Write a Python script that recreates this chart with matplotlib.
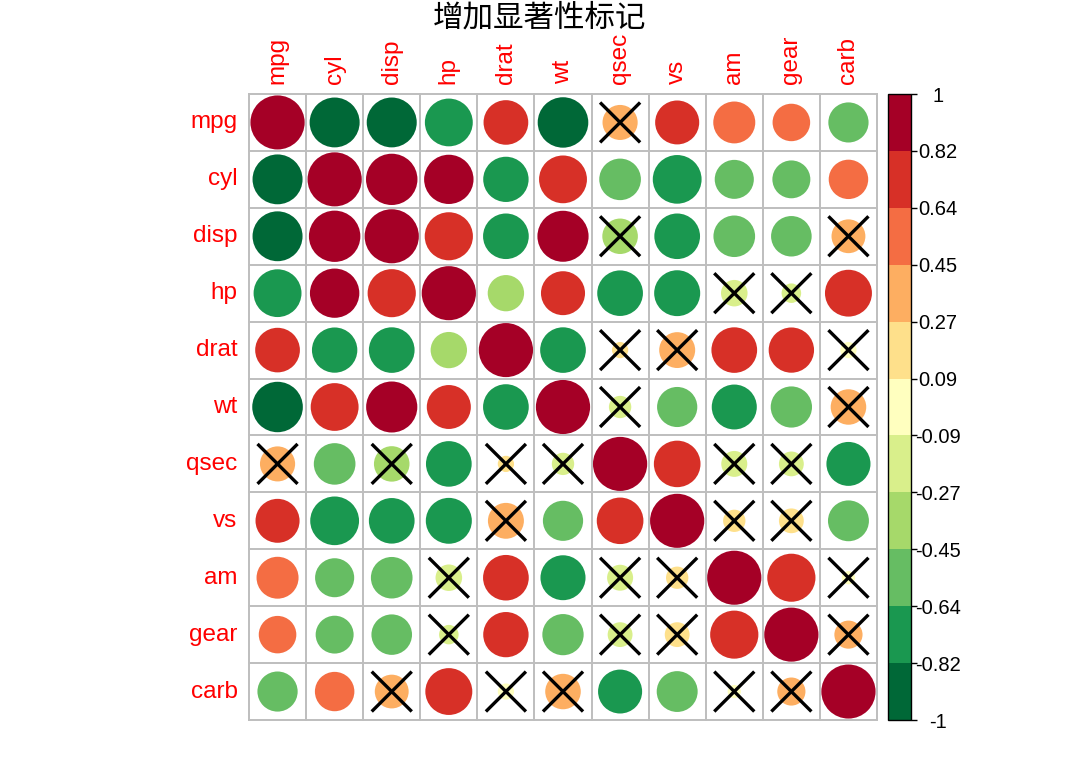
import numpy as np
import matplotlib
matplotlib.use("Agg")
import matplotlib.pyplot as plt
from matplotlib.colors import ListedColormap, BoundaryNorm
from matplotlib.patches import Circle
import matplotlib.cm as cm

plt.rcParams['font.family'] = ['Liberation Sans', 'Noto Sans CJK SC', 'DejaVu Sans']

# --- data -----------------------------------------------------------------
variables = ["mpg", "cyl", "disp", "hp", "drat", "wt", "qsec", "vs", "am", "gear", "carb"]

corr = [
    [1.00, -0.85, -0.85, -0.78, 0.68, -0.87, 0.42, 0.66, 0.60, 0.48, -0.55],
    [-0.85, 1.00, 0.90, 0.83, -0.70, 0.78, -0.59, -0.81, -0.52, -0.49, 0.53],
    [-0.85, 0.90, 1.00, 0.79, -0.71, 0.89, -0.43, -0.71, -0.59, -0.56, 0.39],
    [-0.78, 0.83, 0.79, 1.00, -0.45, 0.66, -0.71, -0.72, -0.24, -0.13, 0.75],
    [0.68, -0.70, -0.71, -0.45, 1.00, -0.71, 0.09, 0.44, 0.71, 0.70, -0.09],
    [-0.87, 0.78, 0.89, 0.66, -0.71, 1.00, -0.17, -0.55, -0.69, -0.58, 0.43],
    [0.42, -0.59, -0.43, -0.71, 0.09, -0.17, 1.00, 0.74, -0.23, -0.21, -0.66],
    [0.66, -0.81, -0.71, -0.72, 0.44, -0.55, 0.74, 1.00, 0.17, 0.21, -0.57],
    [0.60, -0.52, -0.59, -0.24, 0.71, -0.69, -0.23, 0.17, 1.00, 0.79, 0.06],
    [0.48, -0.49, -0.56, -0.13, 0.70, -0.58, -0.21, 0.21, 0.79, 1.00, 0.27],
    [-0.55, 0.53, 0.39, 0.75, -0.09, 0.43, -0.66, -0.57, 0.06, 0.27, 1.00],
]

# 1 = not significant (crossed out)
insignificant = [
    [0, 0, 0, 0, 0, 0, 1, 0, 0, 0, 0],
    [0, 0, 0, 0, 0, 0, 0, 0, 0, 0, 0],
    [0, 0, 0, 0, 0, 0, 1, 0, 0, 0, 1],
    [0, 0, 0, 0, 0, 0, 0, 0, 1, 1, 0],
    [0, 0, 0, 0, 0, 0, 1, 1, 0, 0, 1],
    [0, 0, 0, 0, 0, 0, 1, 0, 0, 0, 1],
    [1, 0, 1, 0, 1, 1, 0, 0, 1, 1, 0],
    [0, 0, 0, 0, 1, 0, 0, 0, 1, 1, 0],
    [0, 0, 0, 1, 0, 0, 1, 1, 0, 0, 1],
    [0, 0, 0, 1, 0, 0, 1, 1, 0, 0, 1],
    [0, 0, 1, 0, 1, 1, 0, 0, 1, 1, 0],
]

colorbar_ticks = [-1, -0.82, -0.64, -0.45, -0.27, -0.09, 0.09, 0.27, 0.45, 0.64, 0.82, 1]
palette = ["#006837", "#1A9850", "#66BD63", "#A6D96A", "#D9EF8B", "#FFFFBF",
           "#FEE08B", "#FDAE61", "#F46D43", "#D73027", "#A50026"]

title = "增加显著性标记"

# --- plot -----------------------------------------------------------------
W, H = 1080, 771
fig = plt.figure(figsize=(W / 100, H / 100), dpi=100)

cmap = ListedColormap(palette)
norm = BoundaryNorm(colorbar_ticks, cmap.N, clip=True)

n = len(variables)
ax = fig.add_axes([249 / W, 1 - 720 / H, 628 / W, 626 / H])
ax.set_xlim(0, n)
ax.set_ylim(0, n)
ax.axis("off")

grid_color = "#BEBEBE"
for k in range(n + 1):
    ax.plot([k, k], [0, n], color=grid_color, lw=1.4, zorder=1, clip_on=False)
    ax.plot([0, n], [k, k], color=grid_color, lw=1.4, zorder=1, clip_on=False)

for i in range(n):
    for j in range(n):
        r = corr[i][j]
        cx, cy = j + 0.5, n - i - 0.5
        rad = 0.475 * np.sqrt(abs(r))
        ax.add_patch(Circle((cx, cy), rad, facecolor=cmap(norm(r)),
                            edgecolor="none", zorder=2))
        if insignificant[i][j]:
            d = 0.33
            ax.plot([cx - d, cx + d], [cy - d, cy + d], color="black", lw=2.4, zorder=3)
            ax.plot([cx - d, cx + d], [cy + d, cy - d], color="black", lw=2.4, zorder=3)

# labels
for k, name in enumerate(variables):
    ax.text(-0.2, n - k - 0.5, name, color="red", fontsize=17.5,
            ha="right", va="center")
    ax.text(k + 0.5, n + 0.17, name, color="red", fontsize=17.5,
            ha="center", va="bottom", rotation=90)

# colorbar
cax = fig.add_axes([888 / W, 1 - 720 / H, 23 / W, 626 / H])
sm = cm.ScalarMappable(norm=norm, cmap=cmap)
cb = fig.colorbar(sm, cax=cax, ticks=colorbar_ticks, spacing="uniform")
cb.ax.set_yticklabels([f"{t:g}" for t in colorbar_ticks])
cb.ax.tick_params(labelsize=14.5, length=4, width=1, direction="out", pad=15.5)
for lab in cb.ax.get_yticklabels():
    lab.set_horizontalalignment("center")
cb.outline.set_linewidth(1)
cb.outline.set_edgecolor("black")

fig.text(540 / W, 1 - 18 / H, title, fontsize=22, ha="center", va="center",
         family=["Noto Sans CJK SC", "DejaVu Sans"])

fig.savefig("out.png", dpi=100)
